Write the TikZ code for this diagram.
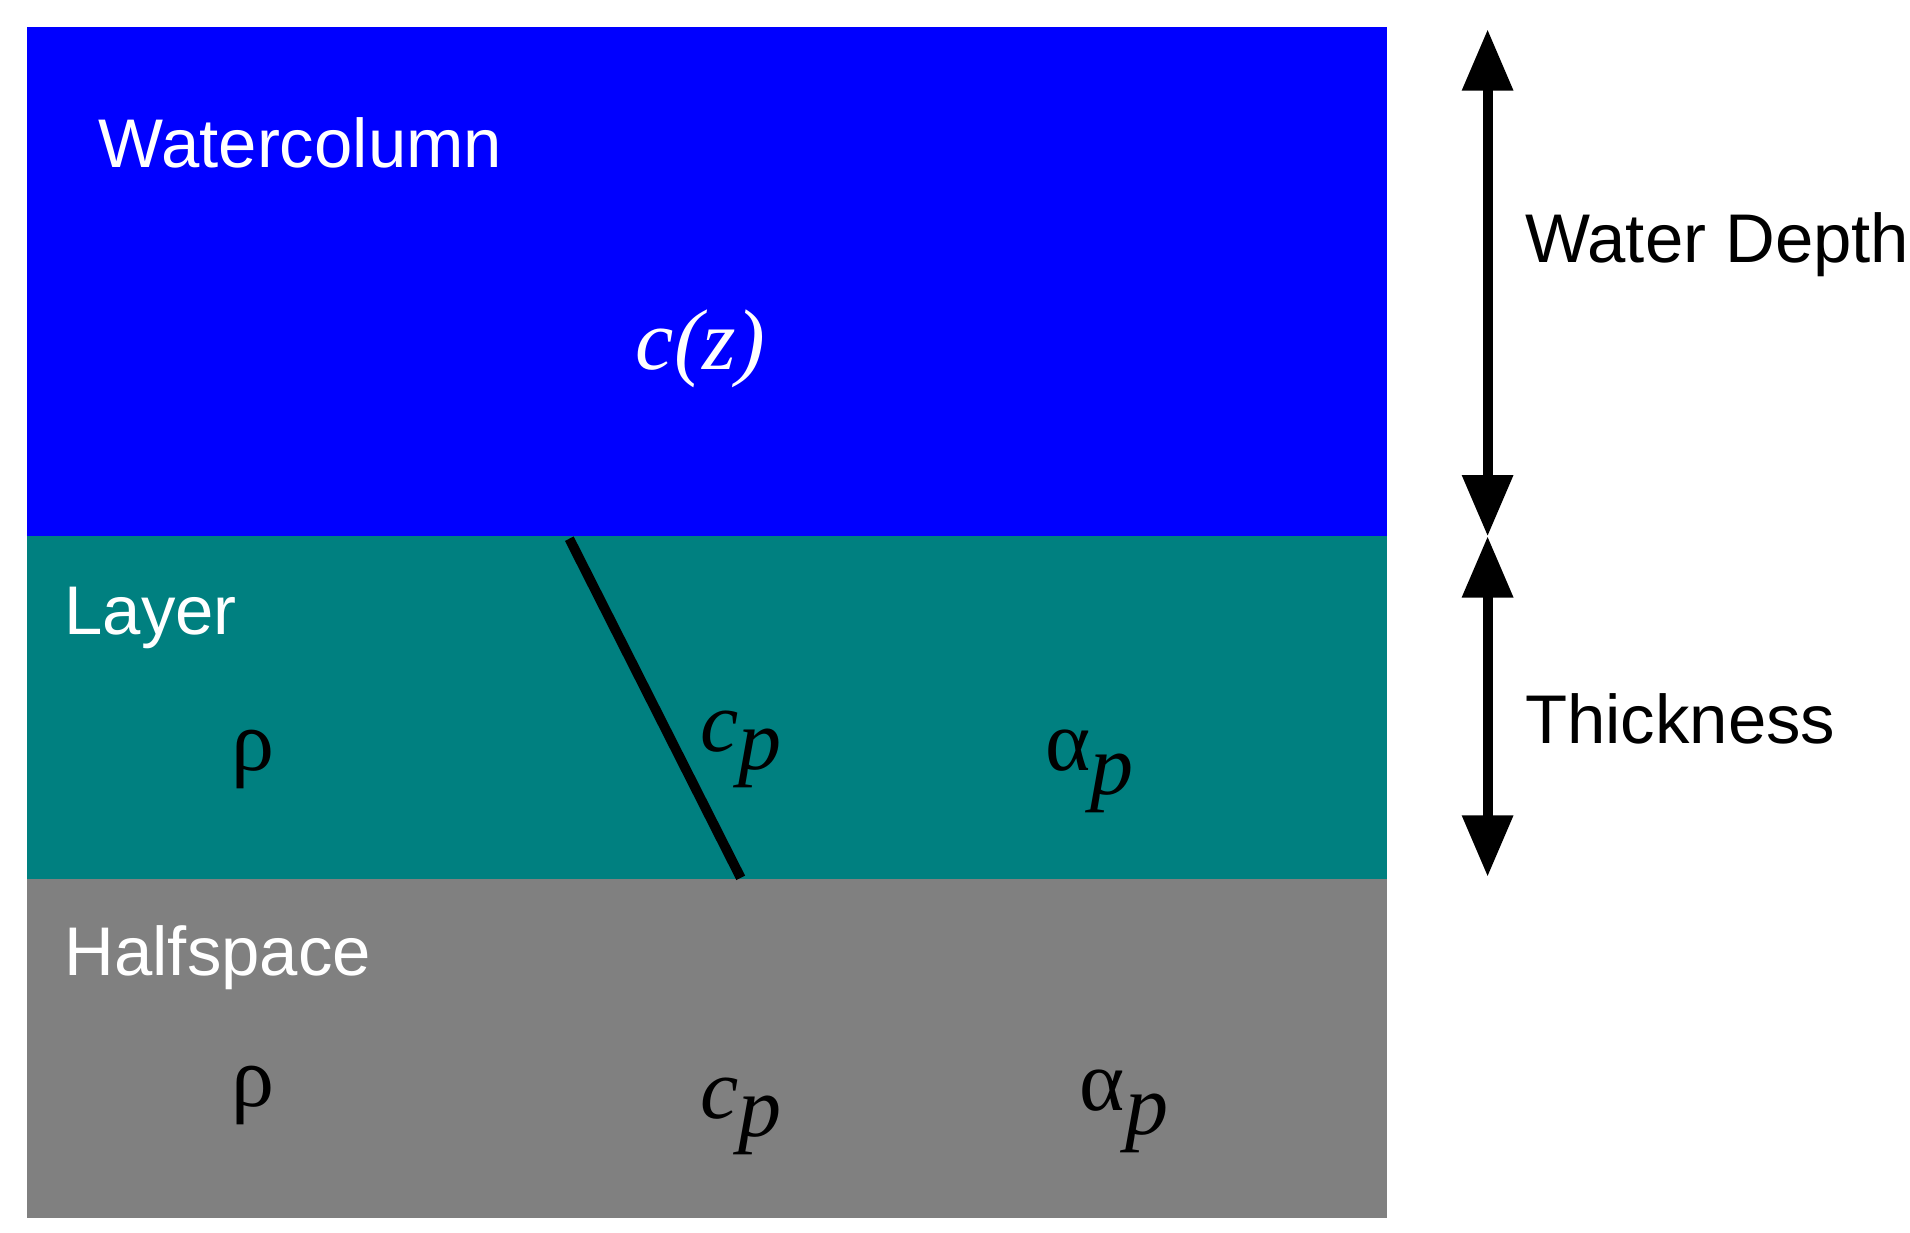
\documentclass[tikz,border=0pt]{standalone}
\usepackage{fontspec}
\setmainfont{Liberation Sans}
\newfontfamily\serf{Liberation Serif}
\usetikzlibrary{arrows.meta}
\definecolor{wblue}{HTML}{0000FF}
\definecolor{lteal}{HTML}{008080}
\definecolor{hgray}{HTML}{808080}
\begin{document}
\begin{tikzpicture}[x=0.01cm,y=-0.01cm,
  lab/.style={anchor=west,font=\fontsize{16}{18}\selectfont,inner sep=0},
  sym/.style={font=\fontsize{20}{22}\selectfont\serf,inner sep=0},
  dim/.style={line width=0.08cm,{Triangle[width=0.4cm,length=0.5cm]}-{Triangle[width=0.4cm,length=0.5cm]}}]
\useasboundingbox (0,0) rectangle (1560,1007);
\fill[wblue] (22,22) rectangle (1133,438);
\fill[lteal] (22,438) rectangle (1133,718);
\fill[hgray] (22,718) rectangle (1133,995);
\coordinate (t) at (465,440);
\coordinate (b) at (605,717);
\draw[line width=0.08cm] (t) -- (b);
\node[lab,text=white] (wc) at (80,117) {Watercolumn};
\node[sym,text=white] (cz) at (572,285) {\itshape c(z)};
\node[lab,text=white] (ly) at (52,505) {Layer};
\node[sym] (r1) at (207,620) {ρ};
\node[sym] (c1) at (605,612) {\itshape c\raisebox{-0.45ex}{p}};
\node[sym] (a1) at (890,630) {α\raisebox{-0.6ex}{\itshape p}};
\node[lab,text=white] (hs) at (52,782) {Halfspace};
\node[sym] (r2) at (207,895) {ρ};
\node[sym] (c2) at (605,912) {\itshape c\raisebox{-0.45ex}{p}};
\node[sym] (a2) at (918,908) {α\raisebox{-0.6ex}{\itshape p}};
\coordinate (d0) at (1215,24);
\coordinate (d1) at (1215,438);
\coordinate (d2) at (1215,716);
\draw[dim] (d0) -- (d1);
\draw[dim] (d1) -- (d2);
\node[lab] (wd) at (1245,200) {Water Depth};
\node[lab] (th) at (1245,587) {Thickness};
\end{tikzpicture}
\end{document}
